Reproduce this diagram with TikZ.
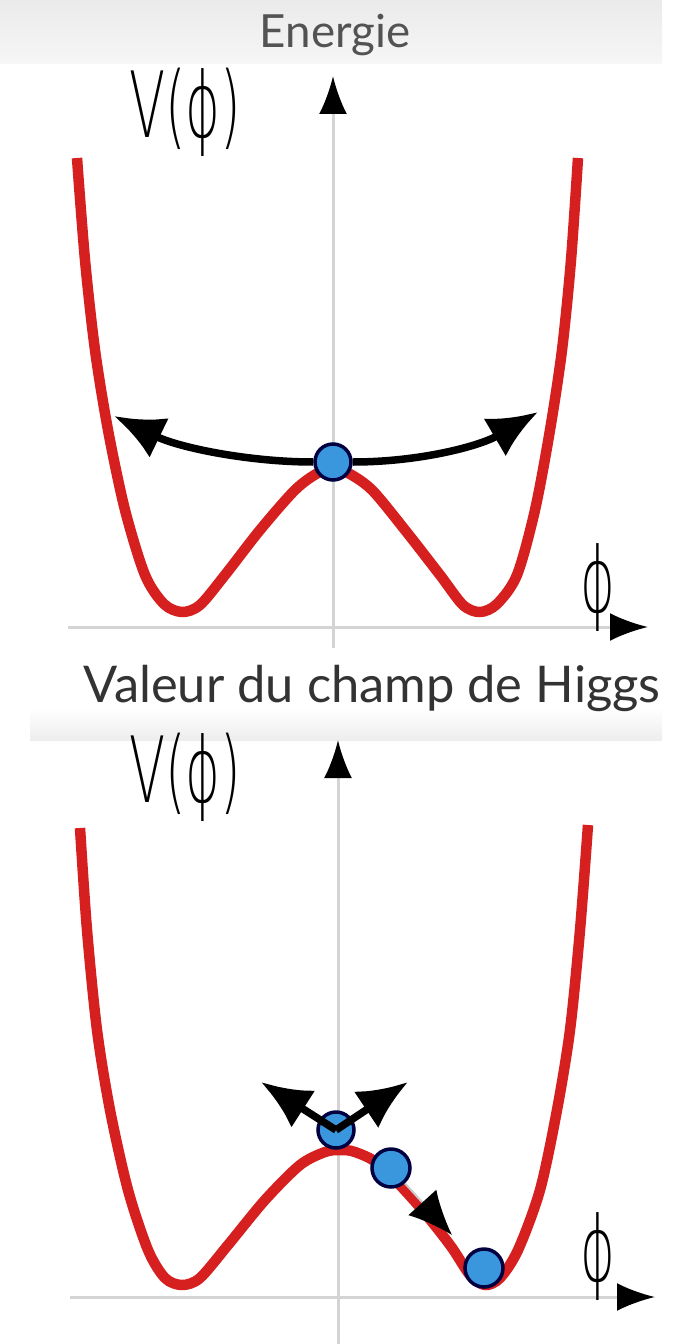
\documentclass[tikz,border=0pt]{standalone}
\usepackage{fontspec}
\setmainfont{Lato}
\IfFontExistsTF{DejaVu Sans ExtraLight}
  {\newfontfamily\handfont{DejaVu Sans ExtraLight}}
  {\newfontfamily\handfont{DejaVu Sans}}
\usetikzlibrary{calc,arrows.meta}
\definecolor{potred}{HTML}{D61F1F}
\definecolor{ballblue}{HTML}{3A96DD}
\definecolor{axisgray}{HTML}{D4D4D4}
\tikzset{
  potential/.style={potred,line width=1.05mm,line join=round},
  axis/.style={axisgray,line width=0.3mm,-{Latex[length=3.8mm,width=2.8mm,color=black]}},
  ball/.style={circle,fill=ballblue,draw=black!75!blue,line width=0.35mm,minimum size=3.6mm,inner sep=0pt},
  push/.style={line width=0.75mm,-{Latex[length=5mm,width=4.4mm]}},
  vlabel/.style={font=\handfont\fontsize{20}{22}\selectfont,xscale=0.75,yscale=1.3},
}

\begin{document}
\begin{tikzpicture}[x=0.1mm,y={(0mm,-0.1mm)}]
  \useasboundingbox (0,0) rectangle (674,1344);
  \shade[top color=gray!16,bottom color=gray!7] (0,0) rectangle (662,64);
  \shade[top color=white,bottom color=gray!14] (30,708) rectangle (662,740);
  \node[text=gray!65!black,font=\fontsize{13}{15}\selectfont] (title) at (335,35) {Energie};
  \node[text=black!80,font=\fontsize{14.4}{16}\selectfont] (xtitle) at (372,688) {Valeur du champ de Higgs};
  % top panel
  \draw[axis] (333,648) -- (333,76);
  \draw[axis] (68,627) -- (648,627);
  \node[vlabel] (Vtop) at (185,112) {V(ϕ)};
  \node[vlabel] (phitop) at (598,588) {ϕ};
  \draw[potential] plot[smooth] coordinates {(77,158) (85,260) (95,350) (108,430) (125,510)
    (145,575) (164,604) (182,612) (200,605) (225,575) (260,530) (295,490) (318,473) (333,470)
    (348,473) (372,490) (405,530) (440,575) (463,605) (480,612) (497,604) (517,575) (535,510)
    (550,430) (562,350) (571,260) (578,158)};
  \node[ball] (btop) at (333,462) {};
  \coordinate (Ltip) at (114,416);
  \coordinate (Rtip) at (538,412);
  \draw[push] (btop.west) .. controls (250,462) and (180,448) .. (Ltip);
  \draw[push] (btop.east) .. controls (420,462) and (480,446) .. (Rtip);
  % bottom panel
  \draw[axis] (338,1344) -- (338,740);
  \draw[axis] (70,1297) -- (655,1297);
  \node[vlabel] (Vbot) at (185,777) {V(ϕ)};
  \node[vlabel] (phibot) at (598,1257) {ϕ};
  \draw[potential] plot[smooth] coordinates {(80,828) (87,930) (97,1030) (110,1110) (128,1190)
    (148,1250) (165,1278) (182,1285) (200,1278) (228,1245) (265,1200) (300,1165) (325,1152)
    (340,1150) (355,1152) (380,1165) (418,1205) (450,1245) (470,1275) (485,1285) (500,1278)
    (518,1250) (540,1190) (557,1110) (570,1030) (580,930) (588,825)};
  \node[ball] (bmax) at (336,1130) {};
  \node[ball,minimum size=3.8mm] (bslope) at (391,1168) {};
  \node[ball,minimum size=3.8mm] (bmin) at (484,1268) {};
  \coordinate (ULtip) at (261,1082);
  \coordinate (URtip) at (408,1082);
  \coordinate (Dtip) at (452,1235);
  \draw[push] (bmax.center) -- (ULtip);
  \draw[push] (bmax.center) -- (URtip);
  \draw[gray!40,line width=0.2mm,-{Latex[length=4.4mm,width=3.8mm,color=black]}] (bslope) -- (Dtip);
\end{tikzpicture}
\end{document}
